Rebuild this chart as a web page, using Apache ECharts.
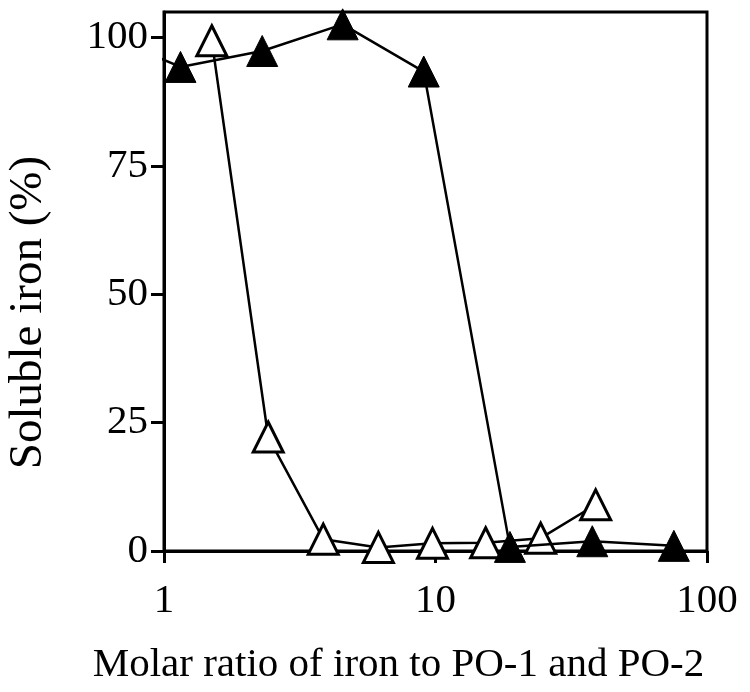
<!DOCTYPE html>
<html>
<head>
<meta charset="utf-8">
<script src="https://cdn.jsdelivr.net/npm/echarts@6/dist/echarts.min.js"></script>
<style>
html,body{margin:0;padding:0;background:#fff;}
#chart{width:750px;height:692px;}
</style>
</head>
<body>
<div id="chart"></div>
<script>
// Filled triangles (series 1)
const filledX = [0.575, 1.15, 2.3, 4.55, 9.05, 18.8, 37.8, 75.5];
const filledY = [101, 94.3, 97.4, 102.6, 93.4, 0.8, 1.9, 1.0];
// Open triangles (series 2)
const openX = [1.5, 2.42, 3.86, 6.16, 9.75, 15.3, 24.4, 38.9];
const openY = [99.4, 22.2, 2.3, 0.7, 1.5, 1.6, 2.5, 9.0];
const yTicks = [0, 25, 50, 75, 100];
const xTitle = 'Molar ratio of iron to PO-1 and PO-2';
const yTitle = 'Soluble iron (%)';

const FONT = '"Liberation Serif", "DejaVu Serif", serif';
const zip = (xs, ys) => xs.map((x, i) => [x, ys[i]]);

const chart = echarts.init(document.getElementById('chart'), null, {renderer: 'canvas'});
chart.setOption({
  animation: false,
  backgroundColor: '#fff',
  grid: {left: 164, right: 43, top: 12, bottom: 141, show: true, borderColor: '#000', borderWidth: 3, backgroundColor: 'transparent', containLabel: false, outerBoundsMode: 'none'},
  xAxis: {
    type: 'log', logBase: 10, min: 1, max: 100,
    name: xTitle, nameLocation: 'middle', nameGap: 94,
    nameTextStyle: {fontFamily: FONT, fontSize: 41, color: '#000', padding: [0, 74, 0, 0]},
    axisLine: {lineStyle: {color: '#000', width: 3}},
    axisTick: {show: true, inside: false, length: 12, lineStyle: {color: '#000', width: 3}},
    minorTick: {show: false},
    splitLine: {show: false},
    axisLabel: {fontFamily: FONT, fontSize: 41, color: '#000', margin: 30}
  },
  yAxis: {
    type: 'value', min: 0, max: 105, interval: 25,
    name: yTitle, nameLocation: 'middle', nameGap: 112, nameRotate: 90,
    nameTextStyle: {fontFamily: FONT, fontSize: 47, color: '#000', padding: [0, 62, 0, 0]},
    axisLine: {lineStyle: {color: '#000', width: 3}},
    axisTick: {show: true, inside: false, length: 13, lineStyle: {color: '#000', width: 3}, customValues: yTicks},
    splitLine: {show: false},
    axisLabel: {fontFamily: FONT, fontSize: 41, color: '#000', margin: 16, customValues: yTicks}
  },
  series: [
    {
      type: 'line', data: zip(openX, openY), clip: true,
      symbol: 'triangle', symbolSize: 30,
      itemStyle: {color: '#fff', borderColor: '#000', borderWidth: 3},
      lineStyle: {color: '#000', width: 2.5},
      z: 3
    },
    {
      type: 'line', data: zip(filledX, filledY), clip: true,
      symbol: 'triangle', symbolSize: 31,
      itemStyle: {color: '#000', borderColor: '#000', borderWidth: 1},
      lineStyle: {color: '#000', width: 2.5},
      z: 4
    }
  ]
});
</script>
</body>
</html>
